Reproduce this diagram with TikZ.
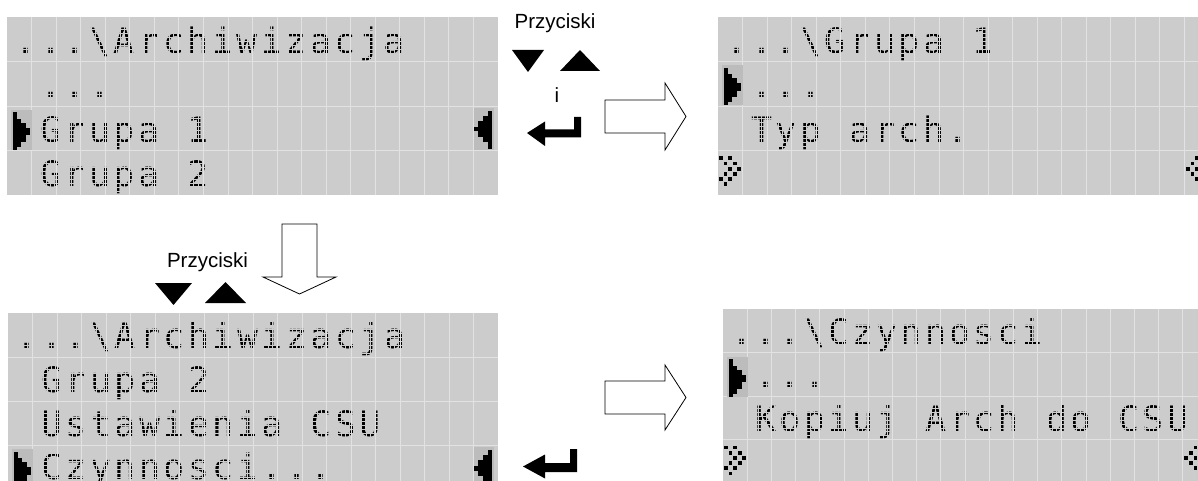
\documentclass[tikz,border=0pt]{standalone}
\usepackage{fontspec}
\setmainfont{Liberation Sans}
\newfontfamily\lcdfont{DejaVu Sans Mono}
\definecolor{lcdbg}{HTML}{CCCCCC}
\definecolor{lcdgrid}{HTML}{E2E2E2}
\newlength\lcdw
\setlength\lcdw{24.55pt}
\ExplSyntaxOn
\NewDocumentCommand \lcd { m }
  { \str_map_inline:nn { #1 } { \lcd_char:n { ##1 } } }
\cs_new_protected:Npn \lcd_char:n #1
  {
    \makebox [ \lcdw ] [ c ]
      { \str_if_eq:nnTF { #1 } { | } { \textbackslash } { #1 } }
  }
\ExplSyntaxOff
\tikzset{
  lcdbgbox/.style={fill=lcdbg, draw=none, inner sep=0pt, outer sep=0pt, anchor=north west},
  gridline/.style={draw=lcdgrid, line width=0.9pt},
  maskline/.style={draw=lcdbg, line width=0.65pt},
  lcdtext/.style={inner sep=0pt, outer sep=0pt, anchor=base west, font=\lcdfont\fontsize{35}{35}\selectfont},
  label/.style={inner sep=0pt, font=\fontsize{20.5}{20.5}\selectfont, anchor=base},
  blockarrow/.style={draw=black, line width=0.8pt, fill=white, line join=miter},
  keyshape/.style={fill=black, draw=none},
}
% panel background: name, x, y, cell w, cell h
\newcommand\lcdpanel[5]{%
  \node[lcdbgbox, minimum width={20*#4}, minimum height={4*#5}] (#1) at (#2,#3) {};
}
% dot mask and grid: x, y, cell w, cell h
\newcommand\lcdgrid[4]{%
  \foreach \k in {0,...,118} \draw[maskline] ({#1+7+\k*#3/6-0.3},#2) -- ++(0,{4*#4});
  \foreach \k in {0,...,43} \draw[maskline] (#1,{#2+\k*#4/11+0.2}) -- ++({20*#3},0);
  \foreach \i in {1,...,19} \draw[gridline] ({#1+\i*#3},#2) -- ++(0,{4*#4});
  \foreach \j in {1,2,3} \draw[gridline] (#1,{#2+\j*#4}) -- ++({20*#3},0);
}
% text row: node name, x, y (row top), cell h, string
\newcommand\lcdrow[5]{%
  \node[lcdtext] (#1) at ({#2+7},{#3+0.81*#4}) {\lcd{#5}};
}
% cursor pointing right, cell top-left
\newcommand\curL[2]{%
  \begin{scope}[shift={(#1,#2)}]
    \fill[black!8!lcdbg] (4,4) rectangle (25,44);
    \fill (6,6.5) rectangle (10,44);
    \fill (10,13) rectangle (14,41);
    \fill (14,17) rectangle (18.5,36);
    \fill (18.5,22) rectangle (23,29.5);
  \end{scope}}
% cursor pointing left
\newcommand\curR[2]{%
  \begin{scope}[shift={(#1,#2)}]
    \fill[black!8!lcdbg] (0,2) rectangle (20,44);
    \fill (14,5) rectangle (18,43);
    \fill (9.5,10) rectangle (14,36);
    \fill (4.5,15) rectangle (9.5,31);
    \fill (0,21) rectangle (4.5,25.5);
  \end{scope}}
\newcommand\scrollL[2]{%
  \foreach \c/\r in {0/0,2/0,1/1,3/1,2/2,4/2,1/3,3/3,0/4,2/4,1/5}
    \fill ({#1+1+\c*4.6},{#2+6+\r*5.2}) rectangle ++(3.8,3.8);}
\newcommand\scrollR[2]{%
  \foreach \c/\r in {0/0,2/0,1/1,3/1,2/2,4/2,1/3,3/3,0/4,2/4,1/5}
    \fill ({#1+1.5+(4-\c)*4.6},{#2+6+\r*5.2}) rectangle ++(3.8,3.8);}
\begin{document}
\begin{tikzpicture}[x=1pt,y=-1pt]
\useasboundingbox (0,0) rectangle (1198,481);
\clip (0,0) rectangle (1198,481);
\fill[white] (0,0) rectangle (1198,481);

% ---------- Panel 1 ----------
\setlength\lcdw{24.55pt}
\lcdpanel{p1}{7}{17}{24.55}{44.5}
\lcdrow{p1r0}{7}{17}{44.5}{...|Archiwizacja}
\lcdrow{p1r1}{7}{61.5}{44.5}{ ...}
\lcdrow{p1r2}{7}{106}{44.5}{ Grupa 1}
\lcdrow{p1r3}{7}{150.5}{44.5}{ Grupa 2}
\lcdgrid{7}{17}{24.55}{44.5}
\curL{7}{106}
\curR{473.5}{106}

% ---------- Panel 2 ----------
\lcdpanel{p2}{718}{17}{24.55}{44.5}
\lcdrow{p2r0}{718}{17}{44.5}{...|Grupa 1}
\lcdrow{p2r1}{718}{61.5}{44.5}{ ...}
\lcdrow{p2r2}{718}{106}{44.5}{ Typ arch.}
\lcdgrid{718}{17}{24.55}{44.5}
\curL{718}{61.5}
\scrollL{718}{150.5}
\scrollR{1184.5}{150.5}

% ---------- Panel 3 ----------
\setlength\lcdw{24.5pt}
\lcdpanel{p3}{8}{313}{24.5}{44}
\lcdrow{p3r0}{8}{313}{44}{...|Archiwizacja}
\lcdrow{p3r1}{8}{357}{44}{ Grupa 2}
\lcdrow{p3r2}{8}{401}{44}{ Ustawienia CSU}
\lcdrow{p3r3}{8}{444}{44}{ Czynnosci...}
\lcdgrid{8}{313}{24.5}{44}
\curL{8}{445}
\curR{473.5}{445}

% ---------- Panel 4 ----------
\setlength\lcdw{24.2pt}
\lcdpanel{p4}{723}{309}{24.2}{43.5}
\lcdrow{p4r0}{723}{309}{43.5}{...|Czynnosci}
\lcdrow{p4r1}{723}{352.5}{43.5}{ ...}
\lcdrow{p4r2}{723}{396}{43.5}{ Kopiuj Arch do CSU}
\lcdgrid{723}{309}{24.2}{43.5}
\curL{723}{352.5}
\scrollL{723}{439.5}
\scrollR{1182.8}{439.5}

% ---------- keys, top ----------
\node[label] (lbl1) at (555,29) {Przyciski};
\fill[keyshape] (512,50) -- (544,50) -- (528,72) -- cycle;
\fill[keyshape] (560,71) -- (600,71) -- (580,50) -- cycle;
\node[label] (lbl2) at (557,103) {i};
\fill[keyshape] (574,117) -- (581,117) -- (581,137.5) -- (545,137.5) -- (545,146) -- (527,133) -- (545,121.5) -- (545,129.5) -- (574,129.5) -- cycle;

% ---------- keys, bottom ----------
\node[label] (lbl3) at (207.5,267) {Przyciski};
\fill[keyshape] (155,283) -- (192,283) -- (173.5,305) -- cycle;
\fill[keyshape] (205,303) -- (246,303) -- (225.5,282) -- cycle;
\fill[keyshape] (570,449) -- (577,449) -- (577,472) -- (545,472) -- (545,478.5) -- (523,466.5) -- (545,454.5) -- (545,463) -- (570,463) -- cycle;

% ---------- block arrows ----------
\draw[blockarrow] (605,100) -- (665,100) -- (665,83) -- (686,116.5) -- (665,150) -- (665,133) -- (605,133) -- cycle;
\draw[blockarrow] (605,381) -- (665,381) -- (665,365) -- (686,397.5) -- (665,430) -- (665,414) -- (605,414) -- cycle;
\draw[blockarrow] (282,224) -- (317,224) -- (317,277) -- (336,277) -- (299.5,294) -- (263,277) -- (282,277) -- cycle;
\end{tikzpicture}
\end{document}
